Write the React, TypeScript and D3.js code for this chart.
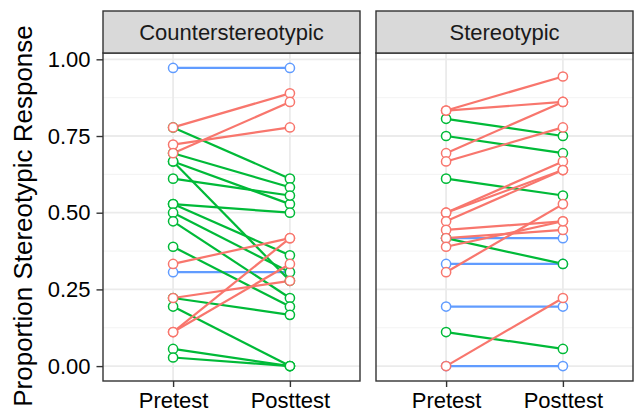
import React, { useEffect, useRef } from 'react';
import * as d3 from 'd3';

// facets and x categories
const facetNames = ['Counterstereotypic', 'Stereotypic'];
const timeLabels = ['Pretest', 'Posttest'];
const yTicks = [0, 0.25, 0.5, 0.75, 1];
const yMinor = [0.125, 0.375, 0.625, 0.875];

// proportions per participant
const counterPre = [0.972, 0.306, 0.778, 0.722, 0.694, 0.333, 0.222, 0.111, 0.111, 0.778, 0.694, 0.667, 0.667, 0.611, 0.528, 0.528, 0.5, 0.472, 0.389, 0.222, 0.194, 0.056, 0.028];
const counterPost = [0.972, 0.306, 0.889, 0.778, 0.861, 0.417, 0.278, 0.417, 0.333, 0.611, 0.583, 0.528, 0.278, 0.556, 0.5, 0.361, 0.306, 0.222, 0.194, 0.167, 0, 0, 0];
const stereoPre = [0.417, 0.333, 0.194, 0, 0.806, 0.75, 0.611, 0.417, 0.111, 0.833, 0.833, 0.694, 0.667, 0.5, 0.5, 0.472, 0.444, 0.417, 0.389, 0.306, 0];
const stereoPost = [0.417, 0.333, 0.194, 0, 0.75, 0.694, 0.556, 0.333, 0.056, 0.944, 0.861, 0.861, 0.778, 0.667, 0.639, 0.639, 0.472, 0.444, 0.472, 0.528, 0.222];

const width = 634;
const height = 413;
const font = '"Liberation Sans", Arial, Helvetica, sans-serif';

const colorFor = (pre: number, post: number) =>
  post > pre ? '#F8766D' : post < pre ? '#00BA38' : '#619CFF';
const orderFor = (pre: number, post: number) => (post > pre ? 2 : post < pre ? 1 : 0);

export default function App() {
  const ref = useRef<SVGSVGElement>(null);

  useEffect(() => {
    const svg = d3.select(ref.current);
    svg.selectAll('*').remove();

    const panelTop = 53;
    const panelBottom = 381;
    const stripTop = 11;
    const panelW = 257;
    const panelLefts = [103, 376];

    const all = [...counterPre, ...counterPost, ...stereoPre, ...stereoPost];
    const lo = d3.min(all) as number;
    const hi = d3.max(all) as number;
    const pad = (hi - lo) * 0.05;
    const y = d3.scaleLinear().domain([lo - pad, hi + pad]).range([panelBottom, panelTop]);

    const facets = [
      { pre: counterPre, post: counterPost },
      { pre: stereoPre, post: stereoPost },
    ];

    facets.forEach((f, i) => {
      const left = panelLefts[i];
      const x = d3.scalePoint<string>().domain(timeLabels).range([left, left + panelW]).padding(0.6);
      const g = svg.append('g');

      g.append('rect')
        .attr('x', left).attr('y', panelTop)
        .attr('width', panelW).attr('height', panelBottom - panelTop)
        .attr('fill', 'white');

      // grid
      g.selectAll('.minor').data(yMinor).enter().append('line')
        .attr('x1', left).attr('x2', left + panelW)
        .attr('y1', d => y(d)).attr('y2', d => y(d))
        .attr('stroke', '#F2F2F2').attr('stroke-width', 0.9);
      g.selectAll('.major').data(yTicks).enter().append('line')
        .attr('x1', left).attr('x2', left + panelW)
        .attr('y1', d => y(d)).attr('y2', d => y(d))
        .attr('stroke', '#EBEBEB').attr('stroke-width', 1.8);
      g.selectAll('.vmajor').data(timeLabels).enter().append('line')
        .attr('x1', d => x(d) as number).attr('x2', d => x(d) as number)
        .attr('y1', panelTop).attr('y2', panelBottom)
        .attr('stroke', '#EBEBEB').attr('stroke-width', 1.8);

      const rows = f.pre.map((p, k) => ({ pre: p, post: f.post[k] }))
        .sort((a, b) => orderFor(a.pre, a.post) - orderFor(b.pre, b.post));

      // connecting lines
      g.selectAll('.seg').data(rows).enter().append('line')
        .attr('x1', x(timeLabels[0]) as number)
        .attr('x2', x(timeLabels[1]) as number)
        .attr('y1', d => y(d.pre)).attr('y2', d => y(d.post))
        .attr('stroke', d => colorFor(d.pre, d.post))
        .attr('stroke-width', 2.2);

      const pts: { t: string; v: number; c: string }[] = [];
      rows.forEach(r => {
        pts.push({ t: timeLabels[0], v: r.pre, c: colorFor(r.pre, r.post) });
        pts.push({ t: timeLabels[1], v: r.post, c: colorFor(r.pre, r.post) });
      });
      g.selectAll('.pt').data(pts).enter().append('circle')
        .attr('cx', d => x(d.t) as number).attr('cy', d => y(d.v))
        .attr('r', 4.6)
        .attr('fill', 'white')
        .attr('stroke', d => d.c)
        .attr('stroke-width', 1.5);

      // border
      g.append('rect')
        .attr('x', left).attr('y', panelTop)
        .attr('width', panelW).attr('height', panelBottom - panelTop)
        .attr('fill', 'none').attr('stroke', '#333333').attr('stroke-width', 1.4);

      // strip
      g.append('rect')
        .attr('x', left).attr('y', stripTop)
        .attr('width', panelW).attr('height', panelTop - stripTop)
        .attr('fill', '#D9D9D9').attr('stroke', '#333333').attr('stroke-width', 1.4);
      g.append('text')
        .attr('x', left + panelW / 2).attr('y', (stripTop + panelTop) / 2)
        .attr('dy', '0.36em')
        .attr('text-anchor', 'middle')
        .attr('font-family', font).attr('font-size', 22)
        .attr('fill', '#1A1A1A')
        .text(facetNames[i]);

      // x axis
      const xAxis = d3.axisBottom(x).tickSize(6).tickPadding(5);
      const ax = g.append('g').attr('transform', `translate(0,${panelBottom})`).call(xAxis);
      ax.select('.domain').remove();
      ax.selectAll('line').attr('stroke', '#333333').attr('stroke-width', 1.4);
      ax.selectAll('text').attr('font-family', font).attr('font-size', 22).attr('fill', '#000');
    });

    // y axis on the left panel
    const yAxis = d3.axisLeft(y).tickValues(yTicks).tickFormat(d3.format('.2f')).tickSize(6.5).tickPadding(6);
    const ay = svg.append('g').attr('transform', `translate(${panelLefts[0]},0)`).call(yAxis);
    ay.select('.domain').remove();
    ay.selectAll('line').attr('stroke', '#333333').attr('stroke-width', 1.4);
    ay.selectAll('text').attr('font-family', font).attr('font-size', 22).attr('fill', '#000');

    svg.append('text')
      .attr('transform', `translate(32,216) rotate(-90)`)
      .attr('text-anchor', 'middle')
      .attr('font-family', font).attr('font-size', 26)
      .attr('fill', '#000')
      .text('Proportion Stereotypic Response');
  }, []);

  return (
    <svg ref={ref} width={width} height={height}
      style={{ position: 'absolute', left: 0, top: 0, background: 'white' }} />
  );
}
